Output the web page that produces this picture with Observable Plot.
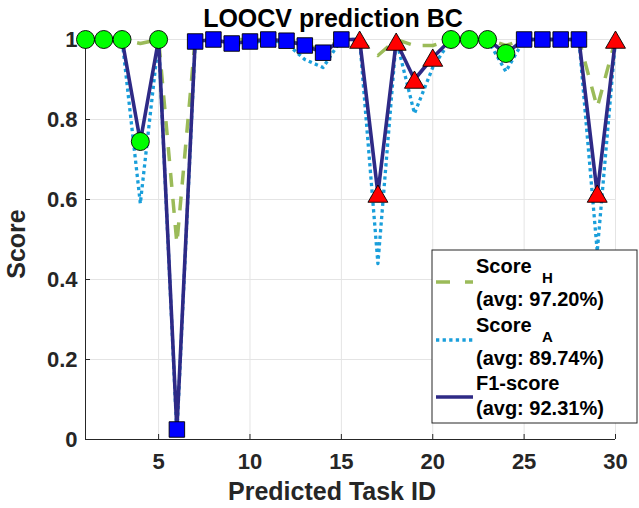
<!DOCTYPE html>
<html>
<head>
<meta charset="utf-8">
<script src="https://cdn.jsdelivr.net/npm/d3@7"></script>
<script src="https://cdn.jsdelivr.net/npm/@observablehq/plot@0.6"></script>
<style>
  body { margin: 0; background: #fff; }
  #chart svg { display: block; }
</style>
</head>
<body>
<div id="chart"></div>
<script>
// Per-task leave-one-out results
const taskId = [1, 2, 3, 4, 5, 6, 7, 8, 9, 10, 11, 12, 13, 14, 15, 16, 17, 18, 19, 20, 21, 22, 23, 24, 25, 26, 27, 28, 29, 30];
const scoreH = [1, 1, 1, 0.99, 1, 0.49, 1, 1, 1, 1, 1, 1, 0.985, 0.975, 1, 1, 0.96, 1, 0.985, 0.985, 1, 1, 1, 0.985, 1, 1, 1, 1, 0.83, 1];
const scoreA = [1, 1, 1, 0.59, 1, 0.015, 0.99, 1, 0.985, 0.99, 1, 0.99, 0.95, 0.93, 1, 1, 0.44, 1, 0.815, 0.93, 1, 1, 1, 0.92, 1, 1, 1, 1, 0.47, 1];
const f1Score = [1, 1, 1, 0.745, 1, 0.025, 0.995, 1, 0.99, 0.995, 1, 0.997, 0.985, 0.967, 1, 1, 0.615, 0.995, 0.9, 0.955, 1, 1, 1, 0.965, 1, 1, 1, 1, 0.615, 1];
const markerShape = ["circle", "circle", "circle", "circle", "circle",
  "square", "square", "square", "square", "square", "square", "square", "square", "square", "square",
  "triangle", "triangle", "triangle", "triangle", "triangle",
  "circle", "circle", "circle", "circle",
  "square", "square", "square", "square",
  "triangle", "triangle"];

// Axes and text
const xTicks = [5, 10, 15, 20, 25, 30];
const yTicks = [0, 0.2, 0.4, 0.6, 0.8, 1];
const yTickLabels = ["0", "0.2", "0.4", "0.6", "0.8", "1"];
const titleText = "LOOCV prediction BC";
const xLabel = "Predicted Task ID";
const yLabel = "Score";

// Legend entries
const legendNames = ["Score", "Score", "F1-score"];
const legendSubs = ["H", "A", ""];
const legendAvgs = ["(avg: 97.20%)", "(avg: 89.74%)", "(avg: 92.31%)"];

const rows = taskId.map((t, i) => ({task: t, h: scoreH[i], a: scoreA[i], f1: f1Score[i], shape: markerShape[i]}));

const W = 639, H = 508;
const mL = 85, mR = 24, mT = 39, mB = 69;
const font = "'Liberation Sans', Arial, Helvetica, sans-serif";
const axisColor = "#262626";
const gridColor = "#e4e4e4";
const colH = "#9bbb59", colA = "#1a9fdb", colF1 = "#2e2a86";

const plot = Plot.plot({
  width: W, height: H,
  marginLeft: mL, marginRight: mR, marginTop: mT, marginBottom: mB,
  style: {fontFamily: font, background: "white", overflow: "visible"},
  x: {domain: [1, 30], axis: null},
  y: {domain: [0, 1], axis: null},
  marks: [
    Plot.gridX(xTicks, {stroke: gridColor, strokeOpacity: 1, strokeWidth: 1}),
    Plot.gridY(yTicks, {stroke: gridColor, strokeOpacity: 1, strokeWidth: 1}),
    Plot.tickX(xTicks, {stroke: axisColor, insetTop: H - mT - mB - 5}),
    Plot.tickY(yTicks, {stroke: axisColor, insetRight: W - mL - mR - 5}),
    Plot.ruleY([0], {stroke: axisColor}),
    Plot.ruleX([1], {stroke: axisColor}),
    Plot.axisX(xTicks, {tickSize: 0, tickPadding: 14, fontSize: 22, fontWeight: "bold", fill: axisColor, label: null}),
    Plot.axisY(yTicks, {tickSize: 0, tickPadding: 8, fontSize: 22, fontWeight: "bold", fill: axisColor, label: null,
      tickFormat: d => yTickLabels[yTicks.indexOf(d)]}),
    Plot.line(rows, {x: "task", y: "h", stroke: colH, strokeWidth: 3.5, strokeDasharray: "14,12", strokeLinecap: "butt"}),
    Plot.line(rows, {x: "task", y: "a", stroke: colA, strokeWidth: 3.3, strokeDasharray: "3.3,3.3", strokeLinecap: "butt"}),
    Plot.line(rows, {x: "task", y: "f1", stroke: colF1, strokeWidth: 3.6}),
    Plot.dot(rows.filter(d => d.shape === "circle"), {x: "task", y: "f1", symbol: "circle", r: 9, fill: "#00ff00", stroke: "black", strokeWidth: 0.9}),
    Plot.dot(rows.filter(d => d.shape === "square"), {x: "task", y: "f1", symbol: "square", r: 8.75, fill: "#0000ff", stroke: "black", strokeWidth: 0.9}),
    Plot.dot(rows.filter(d => d.shape === "triangle"), {x: "task", y: "f1", symbol: "triangle", r: 7.4, dy: 3, fill: "#ff0000", stroke: "black", strokeWidth: 0.9})
  ]
});

document.getElementById("chart").appendChild(plot);
const svg = d3.select(plot);

// Title and axis labels
svg.append("text")
  .attr("x", 333).attr("y", 27)
  .attr("text-anchor", "middle")
  .attr("font-family", font).attr("font-size", 25).attr("font-weight", "bold")
  .attr("fill", "black")
  .text(titleText);

svg.append("text")
  .attr("x", 332).attr("y", 500)
  .attr("text-anchor", "middle")
  .attr("font-family", font).attr("font-size", 25).attr("font-weight", "bold")
  .attr("fill", axisColor)
  .text(xLabel);

svg.append("text")
  .attr("transform", "translate(25,244) rotate(-90)")
  .attr("text-anchor", "middle")
  .attr("font-family", font).attr("font-size", 25).attr("font-weight", "bold")
  .attr("fill", axisColor)
  .text(yLabel);

// Legend box
const lg = svg.append("g")
  .attr("font-family", font).attr("font-weight", "bold")
  .attr("text-anchor", "start");
lg.append("rect")
  .attr("x", 432).attr("y", 250).attr("width", 205).attr("height", 173)
  .attr("fill", "white").attr("stroke", axisColor).attr("stroke-width", 1);

const sampleStyles = [
  {stroke: colH, width: 3.5, dash: "14,15"},
  {stroke: colA, width: 3.3, dash: "3.3,3.3"},
  {stroke: colF1, width: 3.6, dash: null}
];
const rowTop = [273, 332, 390];
const sampleY = [282, 340, 397];
legendNames.forEach((name, i) => {
  const s = sampleStyles[i];
  const ln = lg.append("line")
    .attr("x1", 436).attr("x2", 473)
    .attr("y1", sampleY[i]).attr("y2", sampleY[i])
    .attr("stroke", s.stroke).attr("stroke-width", s.width);
  if (s.dash) ln.attr("stroke-dasharray", s.dash);
  lg.append("text")
    .attr("x", 476).attr("y", rowTop[i])
    .attr("font-size", 20).attr("fill", "black")
    .text(name);
  if (legendSubs[i]) {
    lg.append("text")
      .attr("x", 542).attr("y", rowTop[i] + 10)
      .attr("font-size", 15).attr("fill", "black")
      .text(legendSubs[i]);
  }
  lg.append("text")
    .attr("x", 476).attr("y", rowTop[i] + (i === 2 ? 25 : 33))
    .attr("font-size", 20).attr("fill", "black")
    .text(legendAvgs[i]);
});
</script>
</body>
</html>
